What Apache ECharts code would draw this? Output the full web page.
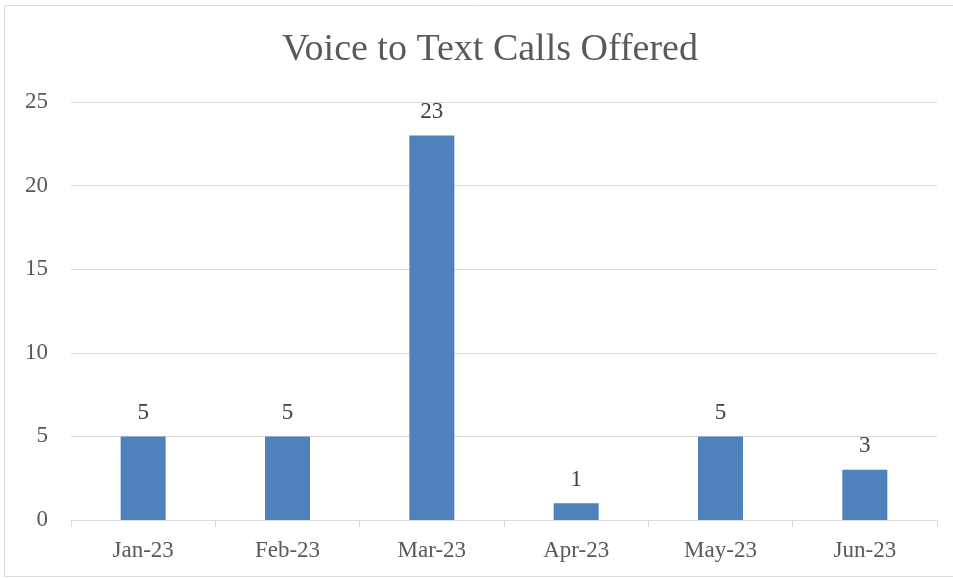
<!DOCTYPE html>
<html>
<head>
<meta charset="utf-8">
<script src="https://cdn.jsdelivr.net/npm/echarts@6/dist/echarts.min.js"></script>
<style>
html, body { margin: 0; padding: 0; background: #fff; }
#chart { width: 953px; height: 578px; }
</style>
</head>
<body>
<div id="chart"></div>
<script>
var months = ['Jan-23', 'Feb-23', 'Mar-23', 'Apr-23', 'May-23', 'Jun-23'];
var callsOffered = [5, 5, 23, 1, 5, 3];
var yTicks = [0, 5, 10, 15, 20, 25];

var font = '"Liberation Serif", serif';
var chart = echarts.init(document.getElementById('chart'));
var option = {
    animation: false,
    graphic: [{
        type: 'rect',
        shape: { x: 4.5, y: 5.5, width: 960, height: 571 },
        style: { fill: 'none', stroke: '#d9d9d9', lineWidth: 1 }
    }],
    title: {
        text: 'Voice to Text Calls Offered',
        left: 485,
        top: 26,
        textAlign: 'center',
        textStyle: { color: '#595959', fontFamily: font, fontSize: 38, fontWeight: 'normal' }
    },
    grid: { left: 71, right: 16, top: 102, bottom: 58 },
    xAxis: {
        type: 'category',
        data: months,
        axisLine: { lineStyle: { color: '#d9d9d9', width: 1 } },
        axisTick: { show: true, length: 7, lineStyle: { color: '#d9d9d9' } },
        axisLabel: { color: '#595959', fontFamily: font, fontSize: 23, margin: 19 }
    },
    yAxis: {
        type: 'value',
        min: yTicks[0],
        max: yTicks[yTicks.length - 1],
        interval: 5,
        axisLine: { show: false },
        axisTick: { show: false },
        splitLine: { lineStyle: { color: '#d9d9d9', width: 1 } },
        axisLabel: { color: '#595959', fontFamily: font, fontSize: 23, margin: 23 }
    },
    series: [{
        type: 'bar',
        data: callsOffered,
        barWidth: 45,
        itemStyle: { color: '#4f81bd' },
        label: {
            show: true,
            position: 'top',
            distance: 12,
            color: '#404040',
            fontFamily: font,
            fontSize: 23
        }
    }]
};
chart.setOption(option);
</script>
</body>
</html>
